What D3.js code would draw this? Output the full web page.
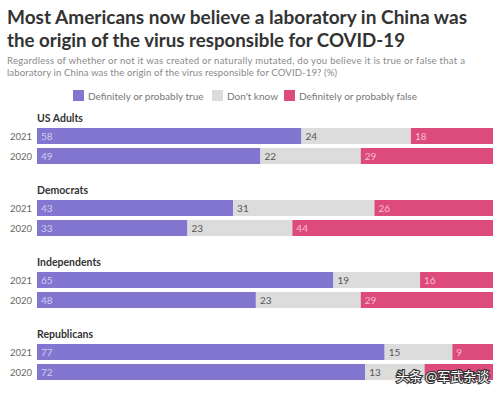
<!DOCTYPE html>
<html>
<head>
<meta charset="utf-8">
<script src="https://cdn.jsdelivr.net/npm/d3@7"></script>
<style>
  body { margin: 0; background: #fff; }
  svg { display: block; font-family: Lato, "Open Sans", sans-serif; }
</style>
</head>
<body>
<svg class="chart"></svg>
<script>
// Survey answers, in percent.
var groups = ["US Adults", "Democrats", "Independents", "Republicans"];
var years = ["2021", "2020"];
var answers = ["Definitely or probably true", "Don't know", "Definitely or probably false"];
var trueValues = [[58, 49], [43, 33], [65, 48], [77, 72]];
var dontKnowValues = [[24, 22], [31, 23], [19, 23], [15, 13]];
var falseValues = [[18, 29], [26, 44], [16, 29], [9, 15]];

window.onload = function () {
    var width = 499, height = 393;
    var colors = ["#8376d0", "#dcdcdc", "#dd4a7c"];
    var labelColors = ["#d2ccf0", "#555", "#f6bfd2"];

    var svg = d3.select("svg.chart").attr("width", width).attr("height", height);

    // Title and subtitle (squeezed to the reference's line widths)
    var title = svg.append("text").attr("font-weight", 700).attr("font-size", 19.5).attr("fill", "#333");
    title.append("tspan").attr("x", 7).attr("y", 24).attr("textLength", 460).attr("lengthAdjust", "spacingAndGlyphs")
        .text("Most Americans now believe a laboratory in China was");
    title.append("tspan").attr("x", 7).attr("y", 47).attr("textLength", 398).attr("lengthAdjust", "spacingAndGlyphs")
        .text("the origin of the virus responsible for COVID-19");

    var sub = svg.append("text").attr("font-size", 9.6).attr("fill", "#8a8a8a");
    sub.append("tspan").attr("x", 7).attr("y", 64).attr("textLength", 458)
        .text("Regardless of whether or not it was created or naturally mutated, do you believe it is true or false that a");
    sub.append("tspan").attr("x", 7).attr("y", 76).attr("textLength", 330)
        .text("laboratory in China was the origin of the virus responsible for COVID-19? (%)");

    // Legend
    var legendX = [73, 212, 284];
    var legend = svg.selectAll("g.legend").data(answers).enter().append("g")
        .attr("class", "legend")
        .attr("transform", function (d, i) { return "translate(" + legendX[i] + ",90)"; });
    legend.append("rect").attr("width", 11).attr("height", 11).attr("fill", function (d, i) { return colors[i]; });
    legend.append("text").attr("x", 15).attr("y", 9.5).attr("font-size", 10).attr("fill", "#777").text(function (d) { return d; });

    // Flatten rows
    var rows = [];
    groups.forEach(function (g, gi) {
        years.forEach(function (y, yi) {
            rows.push({ group: g, year: y, gi: gi, yi: yi,
                t: trueValues[gi][yi], d: dontKnowValues[gi][yi], f: falseValues[gi][yi] });
        });
    });

    var stack = d3.stack().keys(["t", "d", "f"]).offset(d3.stackOffsetExpand);
    var series = stack(rows);

    var x = d3.scaleLinear().domain([0, 1]).range([37, 493]);
    var groupY = d3.scaleBand().domain(groups).range([107, 395]).paddingInner(0);
    var barH = 16, barGap = 4, labelH = 21;

    function rowY(r) { return groupY(r.group) + labelH + r.yi * (barH + barGap); }

    // Group labels
    svg.selectAll("text.group").data(groups).enter().append("text")
        .attr("class", "group")
        .attr("x", 37).attr("y", function (g) { return groupY(g) + 15; })
        .attr("font-size", 10.5).attr("font-weight", 700).attr("fill", "#333")
        .text(function (g) { return g; });

    // Year labels
    svg.selectAll("text.year").data(rows).enter().append("text")
        .attr("class", "year")
        .attr("x", 32).attr("y", function (r) { return rowY(r) + barH / 2 + 3.5; })
        .attr("text-anchor", "end").attr("font-size", 9.5).attr("fill", "#666")
        .text(function (r) { return r.year; });

    // Bars
    var layers = svg.selectAll("g.layer").data(series).enter().append("g").attr("class", "layer");
    layers.selectAll("rect").data(function (s) { return s; }).enter().append("rect")
        .attr("x", function (d) { return x(d[0]); })
        .attr("y", function (d) { return rowY(d.data); })
        .attr("width", function (d) { return x(d[1]) - x(d[0]); })
        .attr("height", barH)
        .attr("fill", function () { return colors[d3.select(this.parentNode).datum().index]; });

    // Value labels; the last pink one sits under the watermark in the original, so it is left out
    layers.selectAll("text")
        .data(function (s) {
            return s.map(function (d) { return { d: d, k: s.key, i: s.index }; })
                .filter(function (o) { return !(o.k === "f" && o.d.data.group === "Republicans" && o.d.data.year === "2020"); });
        })
        .enter().append("text")
        .attr("x", function (o) { return x(o.d[0]) + 4; })
        .attr("y", function (o) { return rowY(o.d.data) + barH / 2 + 3.5; })
        .attr("font-size", 10).attr("fill", function (o) { return labelColors[o.i]; })
        .text(function (o) { return o.d.data[o.k]; });

    // Watermark
    svg.append("text").attr("x", 396).attr("y", 381)
        .attr("font-family", "Noto Sans CJK SC").attr("font-size", 13)
        .attr("fill", "#fff").attr("stroke", "#333").attr("stroke-width", 2.2)
        .attr("paint-order", "stroke")
        .text("头条 @军武杂谈");
};
</script>
</body>
</html>
